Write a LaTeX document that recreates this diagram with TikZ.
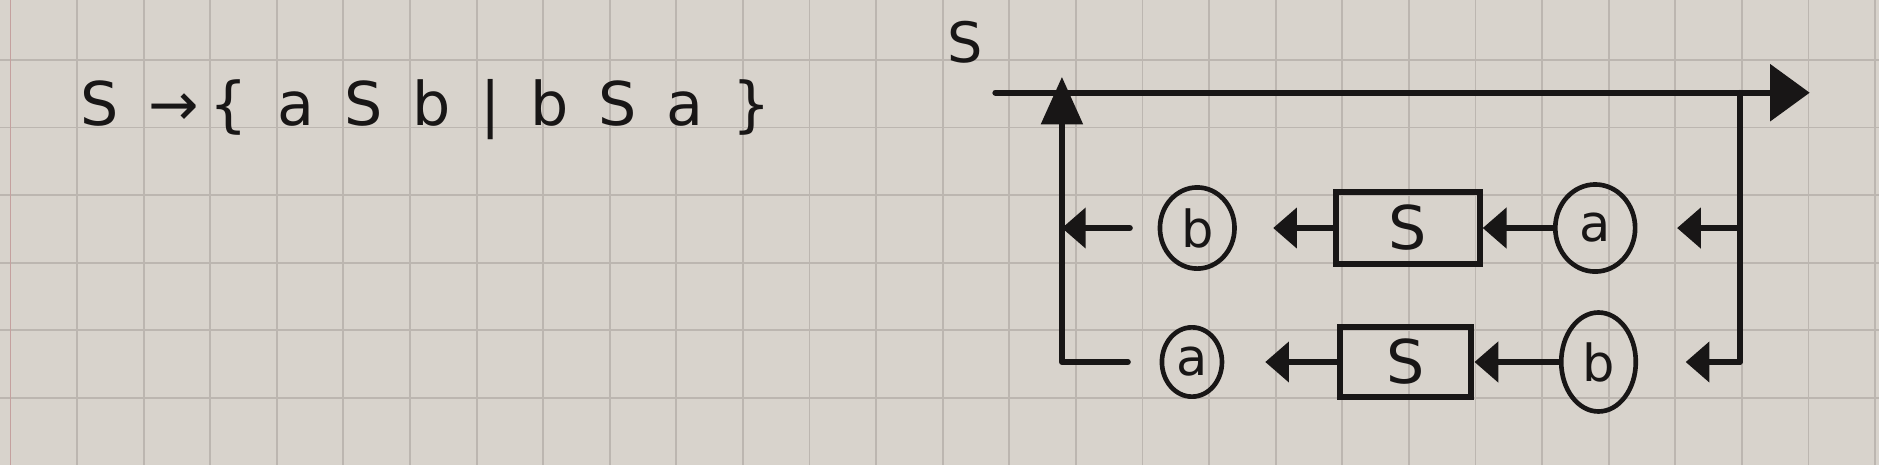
\documentclass[tikz,border=0pt]{standalone}
\usepackage{fontspec}
\setmainfont{DejaVu Sans}
\usetikzlibrary{calc, arrows.meta, shapes.geometric}
\definecolor{paper}{RGB}{216,211,204}
\definecolor{gridline}{RGB}{188,182,176}
\definecolor{margin}{RGB}{196,160,158}
\definecolor{ink}{RGB}{24,22,22}
\tikzset{
    wire/.style={draw=ink, line width=2.5pt, line cap=round, line join=round},
    flow/.style={wire, arrows={-{Triangle[length=0.36cm, width=0.6cm]}}},
    bigflow/.style={wire, arrows={-{Triangle[length=0.6cm, width=0.85cm]}}},
    upflow/.style={wire, arrows={-{Triangle[length=0.72cm, width=0.62cm]}}},
    term/.style={draw=ink, ellipse, line width=2pt, inner sep=0pt, text=ink,
        font=\fontsize{22}{24}\selectfont},
    nonterm/.style={draw=ink, rectangle, line width=2.6pt, inner sep=0pt, text=ink,
        font=\fontsize{26}{28}\selectfont},
}
\begin{document}
\begin{tikzpicture}
        \fill [paper] (0, 0) rectangle (28.47, 7.045);
        \useasboundingbox (0, 0) rectangle (28.47, 7.045);
        \foreach \k in {0, ..., 28}
            \draw [gridline, line width=0.8pt] ({0.158 + 1.009*\k}, 0) -- ++(0, 7.045);
        \foreach \k in {-1, ..., 6}
            \draw [gridline, line width=0.8pt] (0, {6.136 - 1.024*\k}) -- ++(28.47, 0);
        \draw [margin, line width=0.8pt] (0.158, 0) -- ++(0, 7.045);
        \node [anchor=base west, text=ink, font=\fontsize{26}{30}\selectfont] (rule) at (1.1, 5.15)
            {\spaceskip=12.8pt S →\,\{ a S b | b S a \}};
        \node [text=ink, font=\fontsize{24}{26}\selectfont] (name) at (14.62, 6.41) {S};
        \coordinate (in) at (15.08, 5.64);
        \coordinate (join) at (16.09, 5.64);
        \coordinate (split) at (26.36, 5.64);
        \coordinate (out) at (27.42, 5.64);
        \coordinate (r1) at (26.36, 3.59);
        \coordinate (r2) at (26.36, 1.56);
        \coordinate (l1) at (16.09, 3.59);
        \coordinate (l2) at (16.09, 1.56);
        \node [term, minimum width=1.21cm, minimum height=1.32cm] (a1) at (24.17, 3.59) {a};
        \node [nonterm, minimum width=2.18cm, minimum height=1.09cm] (s1) at (21.33, 3.59) {S};
        \node [term, minimum width=1.13cm, minimum height=1.23cm] (b1) at (18.14, 3.59) {b};
        \node [term, minimum width=1.13cm, minimum height=1.5cm] (b2) at (24.22, 1.56) {b};
        \node [nonterm, minimum width=1.99cm, minimum height=1.06cm] (s2) at (21.30, 1.56) {S};
        \node [term, minimum width=0.91cm, minimum height=1.05cm] (a2) at (18.06, 1.56) {a};
        \draw [wire] (in) -- (join);
        \draw [bigflow] (join) -- (split) -- (out);
        \draw [wire] (split) -- (r2);
        \draw [flow, shorten >=0.6cm] (r1) -- (a1);
        \draw [flow] (a1) -- (s1);
        \draw [flow, shorten >=0.55cm] (s1) -- (b1);
        \draw [flow, shorten <=0.42cm] (b1) -- (l1);
        \draw [flow, shorten >=0.72cm] (r2) -- (b2);
        \draw [flow] (b2) -- (s2);
        \draw [flow, shorten >=0.62cm] (s2) -- (a2);
        \draw [upflow, shorten <=0.48cm, shorten >=-0.24cm] (a2) -- (l2) -- (join);
    \end{tikzpicture}
\end{document}
